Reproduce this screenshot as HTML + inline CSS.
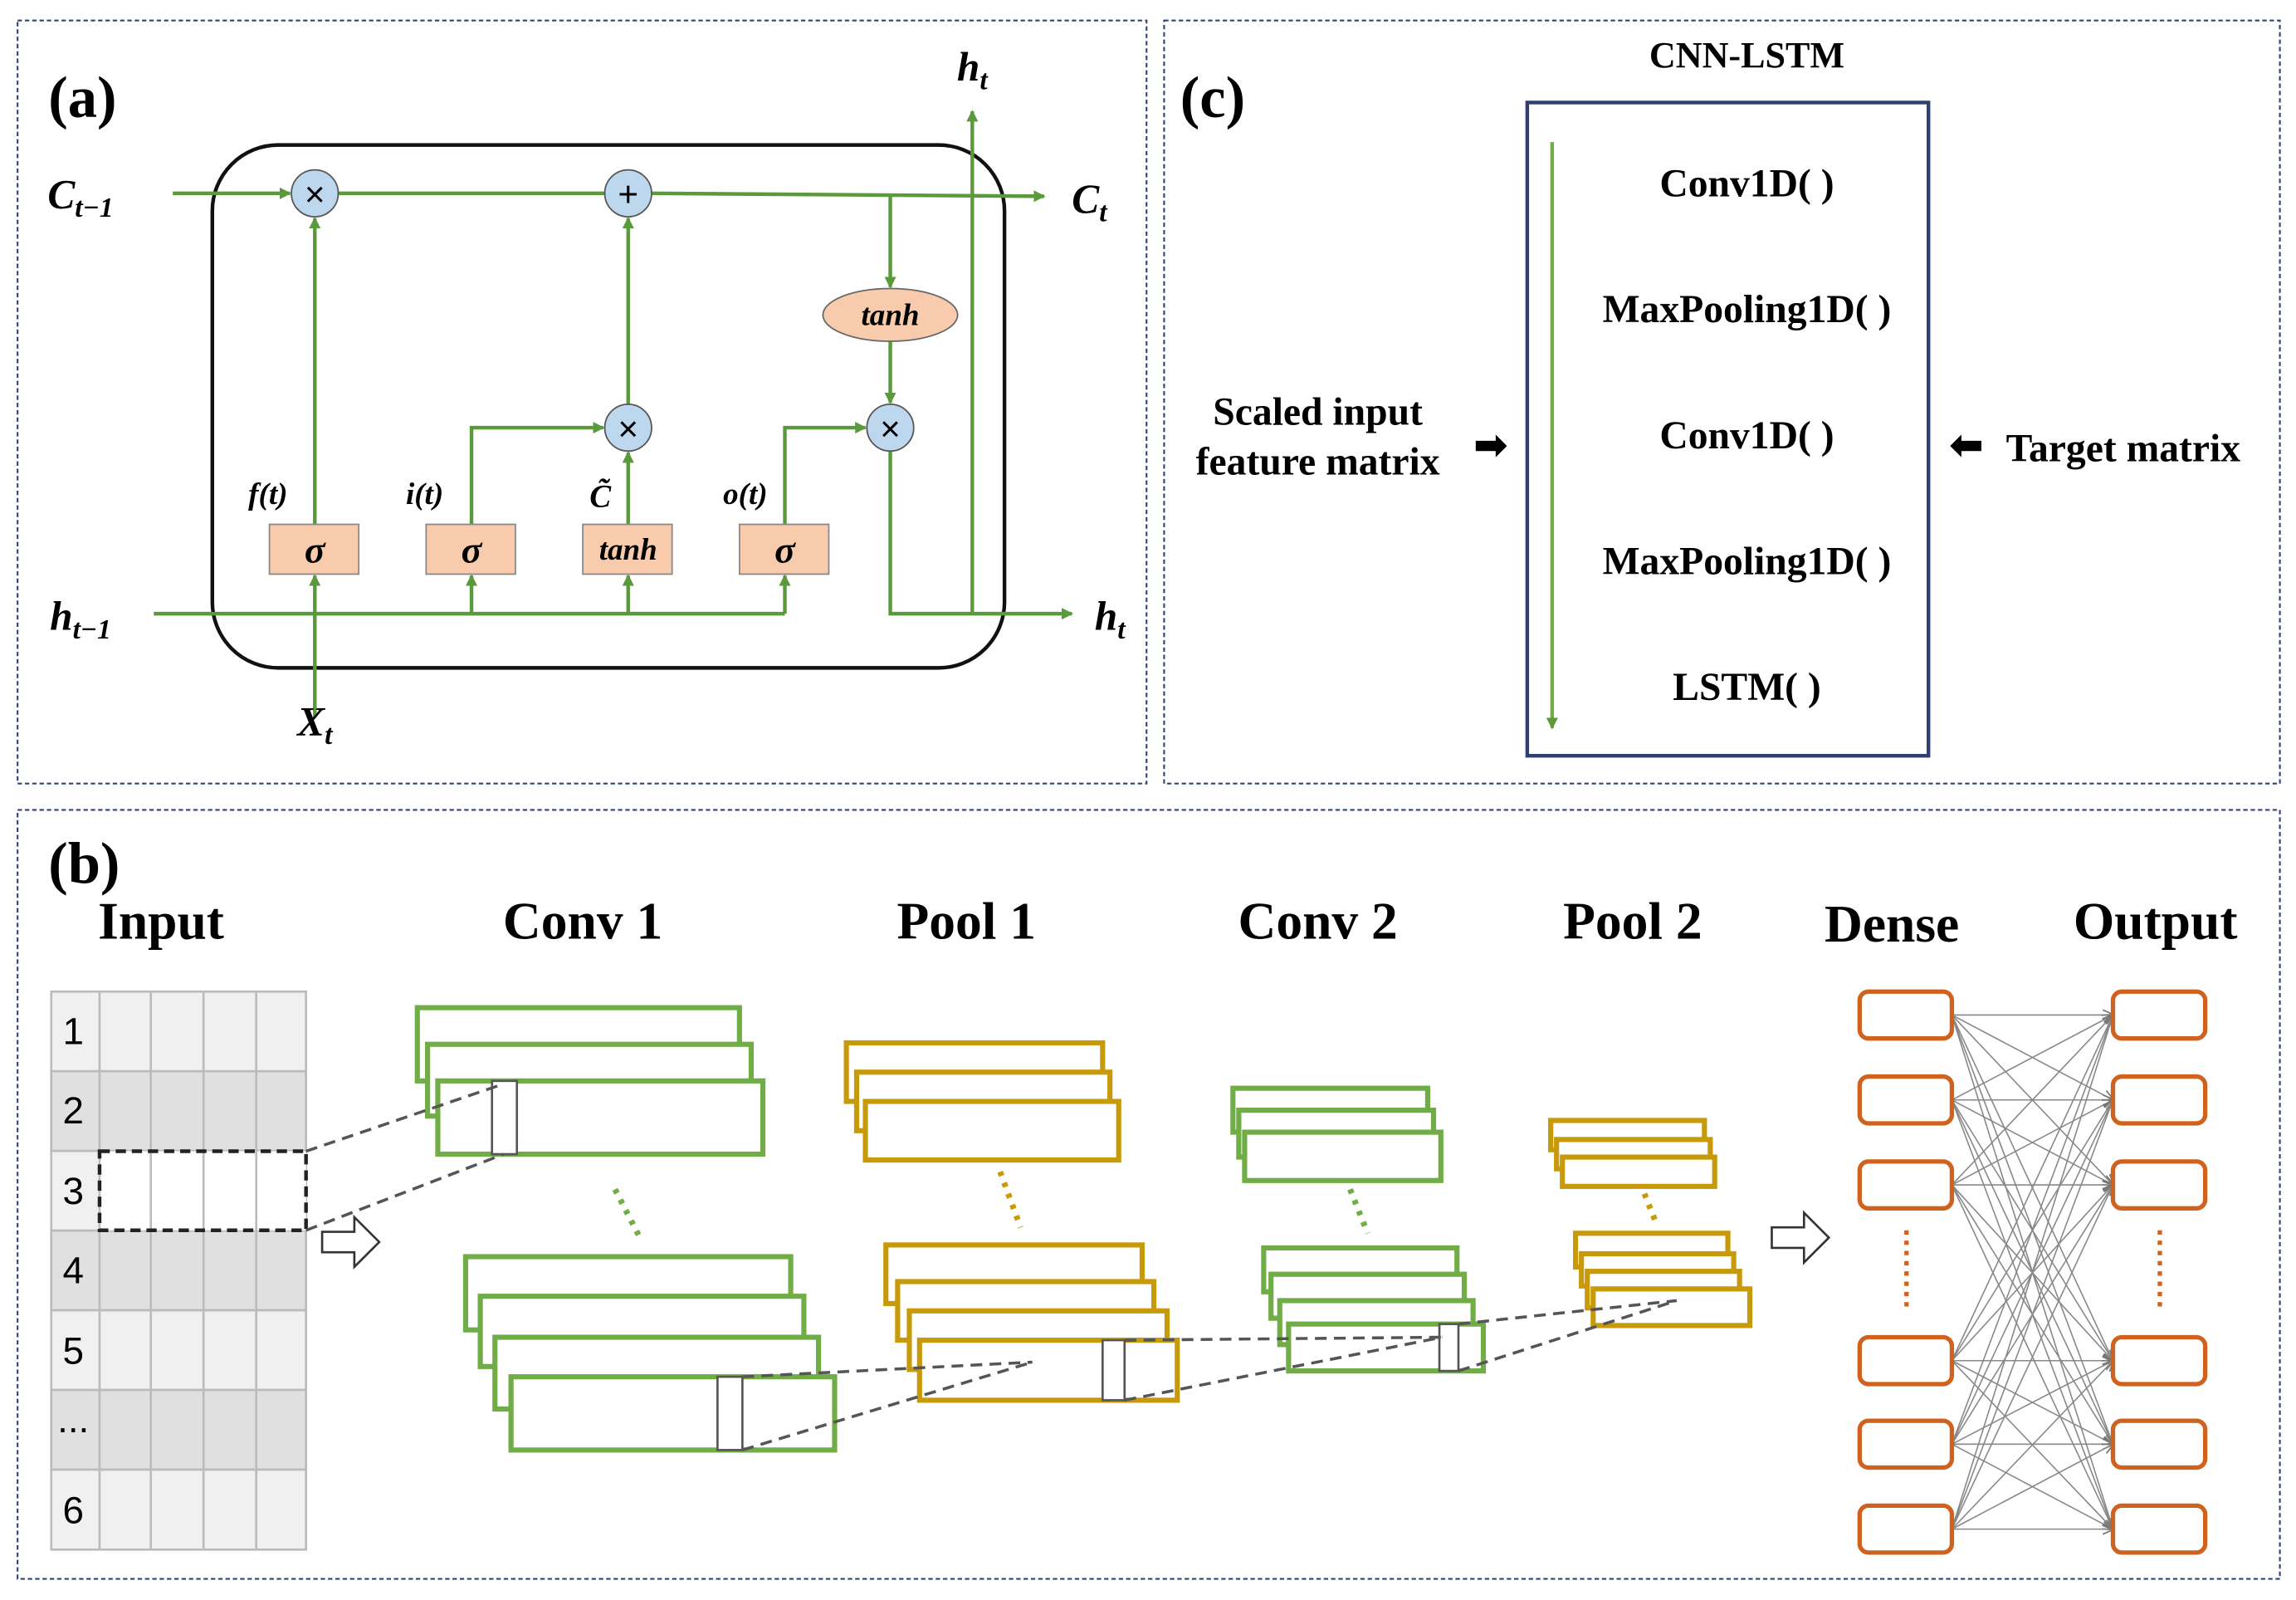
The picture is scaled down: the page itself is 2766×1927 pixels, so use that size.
<!DOCTYPE html>
<html><head><meta charset="utf-8"><style>
html,body{margin:0;padding:0;background:#fff}
svg{display:block}
text{font-family:"Liberation Serif",serif;font-weight:bold}
text.sans{font-family:"Liberation Sans",sans-serif;font-weight:normal}
</style></head><body>
<svg width="2766" height="1927" viewBox="0 0 1568 1092.4" preserveAspectRatio="none" xmlns="http://www.w3.org/2000/svg">
<defs>
<marker id="ga" markerWidth="8" markerHeight="8" refX="7" refY="4" orient="auto" markerUnits="userSpaceOnUse"><path d="M0,0 L8,4 L0,8 z" fill="#5b9a3c"/></marker>
<marker id="gr" markerWidth="8" markerHeight="8" refX="7" refY="4" orient="auto" markerUnits="userSpaceOnUse"><path d="M0,0.5 L8,4 L0,7.5" fill="none" stroke="#777" stroke-width="1"/></marker>
</defs>
<g fill="none" stroke="#2f4670" stroke-width="1.2" stroke-dasharray="3,2">
<rect x="12" y="14" width="771" height="521"/>
<rect x="795" y="14" width="762" height="521"/>
<rect x="12" y="553" width="1545" height="525"/>
</g>
<!-- panel a -->
<text x="33" y="80" font-size="40">(a)</text>
<rect x="145" y="99" width="541" height="357" rx="45" fill="none" stroke="#111" stroke-width="2.5"/>
<g stroke="#5b9a3c" stroke-width="2.5" fill="none">
<line x1="118" y1="132" x2="198" y2="132" marker-end="url(#ga)"/>
<line x1="231" y1="132" x2="413" y2="132"/>
<line x1="445" y1="132" x2="713" y2="134" marker-end="url(#ga)"/>
<line x1="608" y1="133" x2="608" y2="196" marker-end="url(#ga)"/>
<line x1="608" y1="233" x2="608" y2="275" marker-end="url(#ga)"/>
<line x1="105" y1="419" x2="536" y2="419"/>
<line x1="322" y1="419" x2="322" y2="393" marker-end="url(#ga)"/>
<line x1="429" y1="419" x2="429" y2="393" marker-end="url(#ga)"/>
<line x1="536" y1="419" x2="536" y2="393" marker-end="url(#ga)"/>
<line x1="215" y1="490" x2="215" y2="393" marker-end="url(#ga)"/>
<line x1="215" y1="358" x2="215" y2="149" marker-end="url(#ga)"/>
<polyline points="322,358 322,292 412,292" marker-end="url(#ga)"/>
<line x1="429" y1="358" x2="429" y2="309" marker-end="url(#ga)"/>
<line x1="429" y1="276" x2="429" y2="149" marker-end="url(#ga)"/>
<polyline points="536,358 536,292 591,292" marker-end="url(#ga)"/>
<polyline points="608,308 608,419 732,419" marker-end="url(#ga)"/>
<line x1="664" y1="419" x2="664" y2="76" marker-end="url(#ga)"/>
</g>
<g fill="#bdd7ee" stroke="#555" stroke-width="1">
<circle cx="215" cy="132" r="16"/><circle cx="429" cy="132" r="16"/>
<circle cx="429" cy="292" r="16"/><circle cx="608" cy="292" r="16"/>
</g>
<g font-size="24" text-anchor="middle">
<text class="sans" x="215" y="141">×</text><text class="sans" x="429" y="141">+</text><text class="sans" x="429" y="301">×</text><text class="sans" x="608" y="301">×</text>
</g>
<ellipse cx="608" cy="215" rx="46" ry="18" fill="#f8cbad" stroke="#666"/>
<g fill="#f8cbad" stroke="#888">
<rect x="184" y="358" width="61" height="34"/><rect x="291" y="358" width="61" height="34"/>
<rect x="398" y="358" width="61" height="34"/><rect x="505" y="358" width="61" height="34"/>
</g>
<g font-style="italic" text-anchor="middle">
<text x="608" y="222" font-size="21">tanh</text>
<text x="215" y="384" font-size="26">σ</text><text x="322" y="384" font-size="26">σ</text>
<text x="429" y="382" font-size="21">tanh</text><text x="536" y="384" font-size="26">σ</text>
<text x="183" y="344" font-size="21">f(t)</text>
<text x="290" y="344" font-size="21">i(t)</text>
<text x="410" y="346" font-size="22">C̃</text>
<text x="509" y="344" font-size="21">o(t)</text>
<text x="55" y="142" font-size="28">C<tspan font-size="19" dy="6">t−1</tspan></text>
<text x="55" y="430" font-size="28">h<tspan font-size="19" dy="6">t−1</tspan></text>
<text x="744" y="145" font-size="28">C<tspan font-size="19" dy="6">t</tspan></text>
<text x="758" y="430" font-size="28">h<tspan font-size="19" dy="6">t</tspan></text>
<text x="664" y="55" font-size="28">h<tspan font-size="19" dy="6">t</tspan></text>
<text x="215" y="502" font-size="28">X<tspan font-size="19" dy="6">t</tspan></text>
</g>
<!-- panel c -->
<text x="806" y="80" font-size="40">(c)</text>
<text x="1193" y="46" font-size="25" text-anchor="middle">CNN-LSTM</text>
<rect x="1043" y="70" width="274" height="446" fill="none" stroke="#2f3f6f" stroke-width="2.5"/>
<line x1="1060" y1="97" x2="1060" y2="497" stroke="#70ad47" stroke-width="2.5" marker-end="url(#ga)"/>
<g font-size="27" text-anchor="middle">
<text x="1193" y="134">Conv1D( )</text>
<text x="1193" y="220">MaxPooling1D( )</text>
<text x="1193" y="306">Conv1D( )</text>
<text x="1193" y="392">MaxPooling1D( )</text>
<text x="1193" y="478">LSTM( )</text>
<text x="900" y="290">Scaled input</text>
<text x="900" y="324">feature matrix</text>
<text x="1450" y="315">Target matrix</text>
<text x="1018" y="313">➡</text>
<text x="1343" y="313">⬅</text>
</g>
<!-- panel b -->
<text x="33" y="603" font-size="40">(b)</text>
<g font-size="36" text-anchor="middle">
<text x="110" y="641">Input</text><text x="398" y="641">Conv 1</text><text x="660" y="641">Pool 1</text>
<text x="900" y="641">Conv 2</text><text x="1115" y="641">Pool 2</text><text x="1292" y="643">Dense</text><text x="1472" y="641">Output</text>
</g>
<g stroke="#bbb" stroke-width="1.5">
<rect x="35" y="677" width="174" height="54.4" fill="#f0f0f0"/>
<rect x="35" y="731.4" width="174" height="54.4" fill="#e0e0e0"/>
<rect x="35" y="785.8" width="174" height="54.4" fill="#f0f0f0"/>
<rect x="35" y="840.2" width="174" height="54.4" fill="#e0e0e0"/>
<rect x="35" y="894.6" width="174" height="54.4" fill="#f0f0f0"/>
<rect x="35" y="949" width="174" height="54.4" fill="#e0e0e0"/>
<rect x="35" y="1003.4" width="174" height="54.6" fill="#f0f0f0"/>
<rect x="68" y="786" width="141" height="54" fill="#fff" stroke="none"/>
<line x1="68" y1="677" x2="68" y2="1058"/><line x1="103" y1="677" x2="103" y2="1058"/>
<line x1="139" y1="677" x2="139" y2="1058"/><line x1="175" y1="677" x2="175" y2="1058"/>
</g>
<rect x="68" y="786" width="141" height="54" fill="none" stroke="#222" stroke-width="2.5" stroke-dasharray="7,4"/>
<g font-size="26" text-anchor="middle">
<text class="sans" x="50" y="713">1</text><text class="sans" x="50" y="767">2</text><text class="sans" x="50" y="822">3</text><text class="sans" x="50" y="876">4</text>
<text class="sans" x="50" y="931">5</text><text class="sans" x="50" y="978">...</text><text class="sans" x="50" y="1040">6</text>
</g>
<g fill="#fff" stroke="#70ad47" stroke-width="3.5">
<rect x="285" y="688" width="220" height="50"/><rect x="292" y="713" width="221" height="49"/><rect x="299" y="738" width="222" height="50"/>
<rect x="318" y="858" width="222" height="50"/><rect x="328" y="885" width="221" height="48"/><rect x="338" y="913" width="221" height="49"/><rect x="349" y="940" width="221" height="50"/>
<rect x="842" y="743" width="133" height="30"/><rect x="846" y="758" width="133" height="32"/><rect x="850" y="773" width="134" height="33"/>
<rect x="863" y="852" width="132" height="30"/><rect x="868" y="870" width="132" height="30"/><rect x="874" y="888" width="132" height="30"/><rect x="880" y="904" width="133" height="32"/>
</g>
<g fill="#fff" stroke="#c89a0a" stroke-width="3.5">
<rect x="578" y="712" width="175" height="40"/><rect x="585" y="732" width="173" height="40"/><rect x="591" y="752" width="173" height="40"/>
<rect x="605" y="850" width="175" height="40"/><rect x="613" y="875" width="175" height="40"/><rect x="621" y="895" width="176" height="40"/><rect x="628" y="915" width="176" height="41"/>
<rect x="1059" y="765" width="105" height="20"/><rect x="1063" y="778" width="105" height="20"/><rect x="1067" y="790" width="104" height="20"/>
<rect x="1076" y="842" width="104" height="23"/><rect x="1080" y="856" width="104" height="22"/><rect x="1084" y="868" width="104" height="25"/><rect x="1088" y="880" width="107" height="25"/>
</g>
<g stroke-width="4" stroke-dasharray="3,5" fill="none">
<line x1="420" y1="812" x2="437" y2="845" stroke="#70ad47"/>
<line x1="683" y1="800" x2="697" y2="838" stroke="#c89a0a"/>
<line x1="922" y1="812" x2="934" y2="842" stroke="#70ad47"/>
<line x1="1123" y1="815" x2="1131" y2="835" stroke="#c89a0a"/>
</g>
<g fill="#fff" stroke="#555" stroke-width="1.5">
<rect x="336" y="738" width="17" height="50"/><rect x="490" y="940" width="17" height="50"/>
<rect x="753" y="915" width="15" height="41"/><rect x="983" y="904" width="13" height="32"/>
</g>
<g stroke="#555" stroke-width="2" stroke-dasharray="8,5" fill="none">
<line x1="209" y1="786" x2="344" y2="740"/><line x1="209" y1="840" x2="344" y2="788"/>
<line x1="507" y1="940" x2="705" y2="930"/><line x1="507" y1="990" x2="705" y2="930"/>
<line x1="768" y1="915" x2="985" y2="913"/><line x1="768" y1="956" x2="985" y2="913"/>
<line x1="996" y1="904" x2="1145" y2="888"/><line x1="996" y1="936" x2="1145" y2="888"/>
</g>
<g fill="#fff" stroke="#333" stroke-width="1.5">
<path d="M220,841 h22 v-10 l17,17 l-17,17 v-10 h-22 z"/>
<path d="M1210,838 h22 v-10 l17,17 l-17,17 v-10 h-22 z"/>
</g>
<g stroke="#888" stroke-width="0.9" fill="none" marker-end="url(#gr)">
<path d="M1333,693 L1443,693"/><path d="M1333,693 L1443,751"/><path d="M1333,693 L1443,809"/><path d="M1333,693 L1443,929"/><path d="M1333,693 L1443,986"/><path d="M1333,693 L1443,1044"/>
<path d="M1333,751 L1443,693"/><path d="M1333,751 L1443,751"/><path d="M1333,751 L1443,809"/><path d="M1333,751 L1443,929"/><path d="M1333,751 L1443,986"/><path d="M1333,751 L1443,1044"/>
<path d="M1333,809 L1443,693"/><path d="M1333,809 L1443,751"/><path d="M1333,809 L1443,809"/><path d="M1333,809 L1443,929"/><path d="M1333,809 L1443,986"/><path d="M1333,809 L1443,1044"/>
<path d="M1333,929 L1443,693"/><path d="M1333,929 L1443,751"/><path d="M1333,929 L1443,809"/><path d="M1333,929 L1443,929"/><path d="M1333,929 L1443,986"/><path d="M1333,929 L1443,1044"/>
<path d="M1333,986 L1443,693"/><path d="M1333,986 L1443,751"/><path d="M1333,986 L1443,809"/><path d="M1333,986 L1443,929"/><path d="M1333,986 L1443,986"/><path d="M1333,986 L1443,1044"/>
<path d="M1333,1044 L1443,693"/><path d="M1333,1044 L1443,751"/><path d="M1333,1044 L1443,809"/><path d="M1333,1044 L1443,929"/><path d="M1333,1044 L1443,986"/><path d="M1333,1044 L1443,1044"/>
</g>
<g fill="#fff" stroke="#d0621f" stroke-width="3">
<rect x="1270" y="677" width="63" height="32" rx="6"/><rect x="1270" y="735" width="63" height="32" rx="6"/><rect x="1270" y="793" width="63" height="32" rx="6"/>
<rect x="1270" y="913" width="63" height="32" rx="6"/><rect x="1270" y="970" width="63" height="32" rx="6"/><rect x="1270" y="1028" width="63" height="32" rx="6"/>
<rect x="1443" y="677" width="63" height="32" rx="6"/><rect x="1443" y="735" width="63" height="32" rx="6"/><rect x="1443" y="793" width="63" height="32" rx="6"/>
<rect x="1443" y="913" width="63" height="32" rx="6"/><rect x="1443" y="970" width="63" height="32" rx="6"/><rect x="1443" y="1028" width="63" height="32" rx="6"/>
</g>
<g stroke="#d0621f" stroke-width="3" stroke-dasharray="3,4">
<line x1="1302" y1="840" x2="1302" y2="892"/><line x1="1475" y1="840" x2="1475" y2="892"/>
</g>
</svg>
</body></html>
